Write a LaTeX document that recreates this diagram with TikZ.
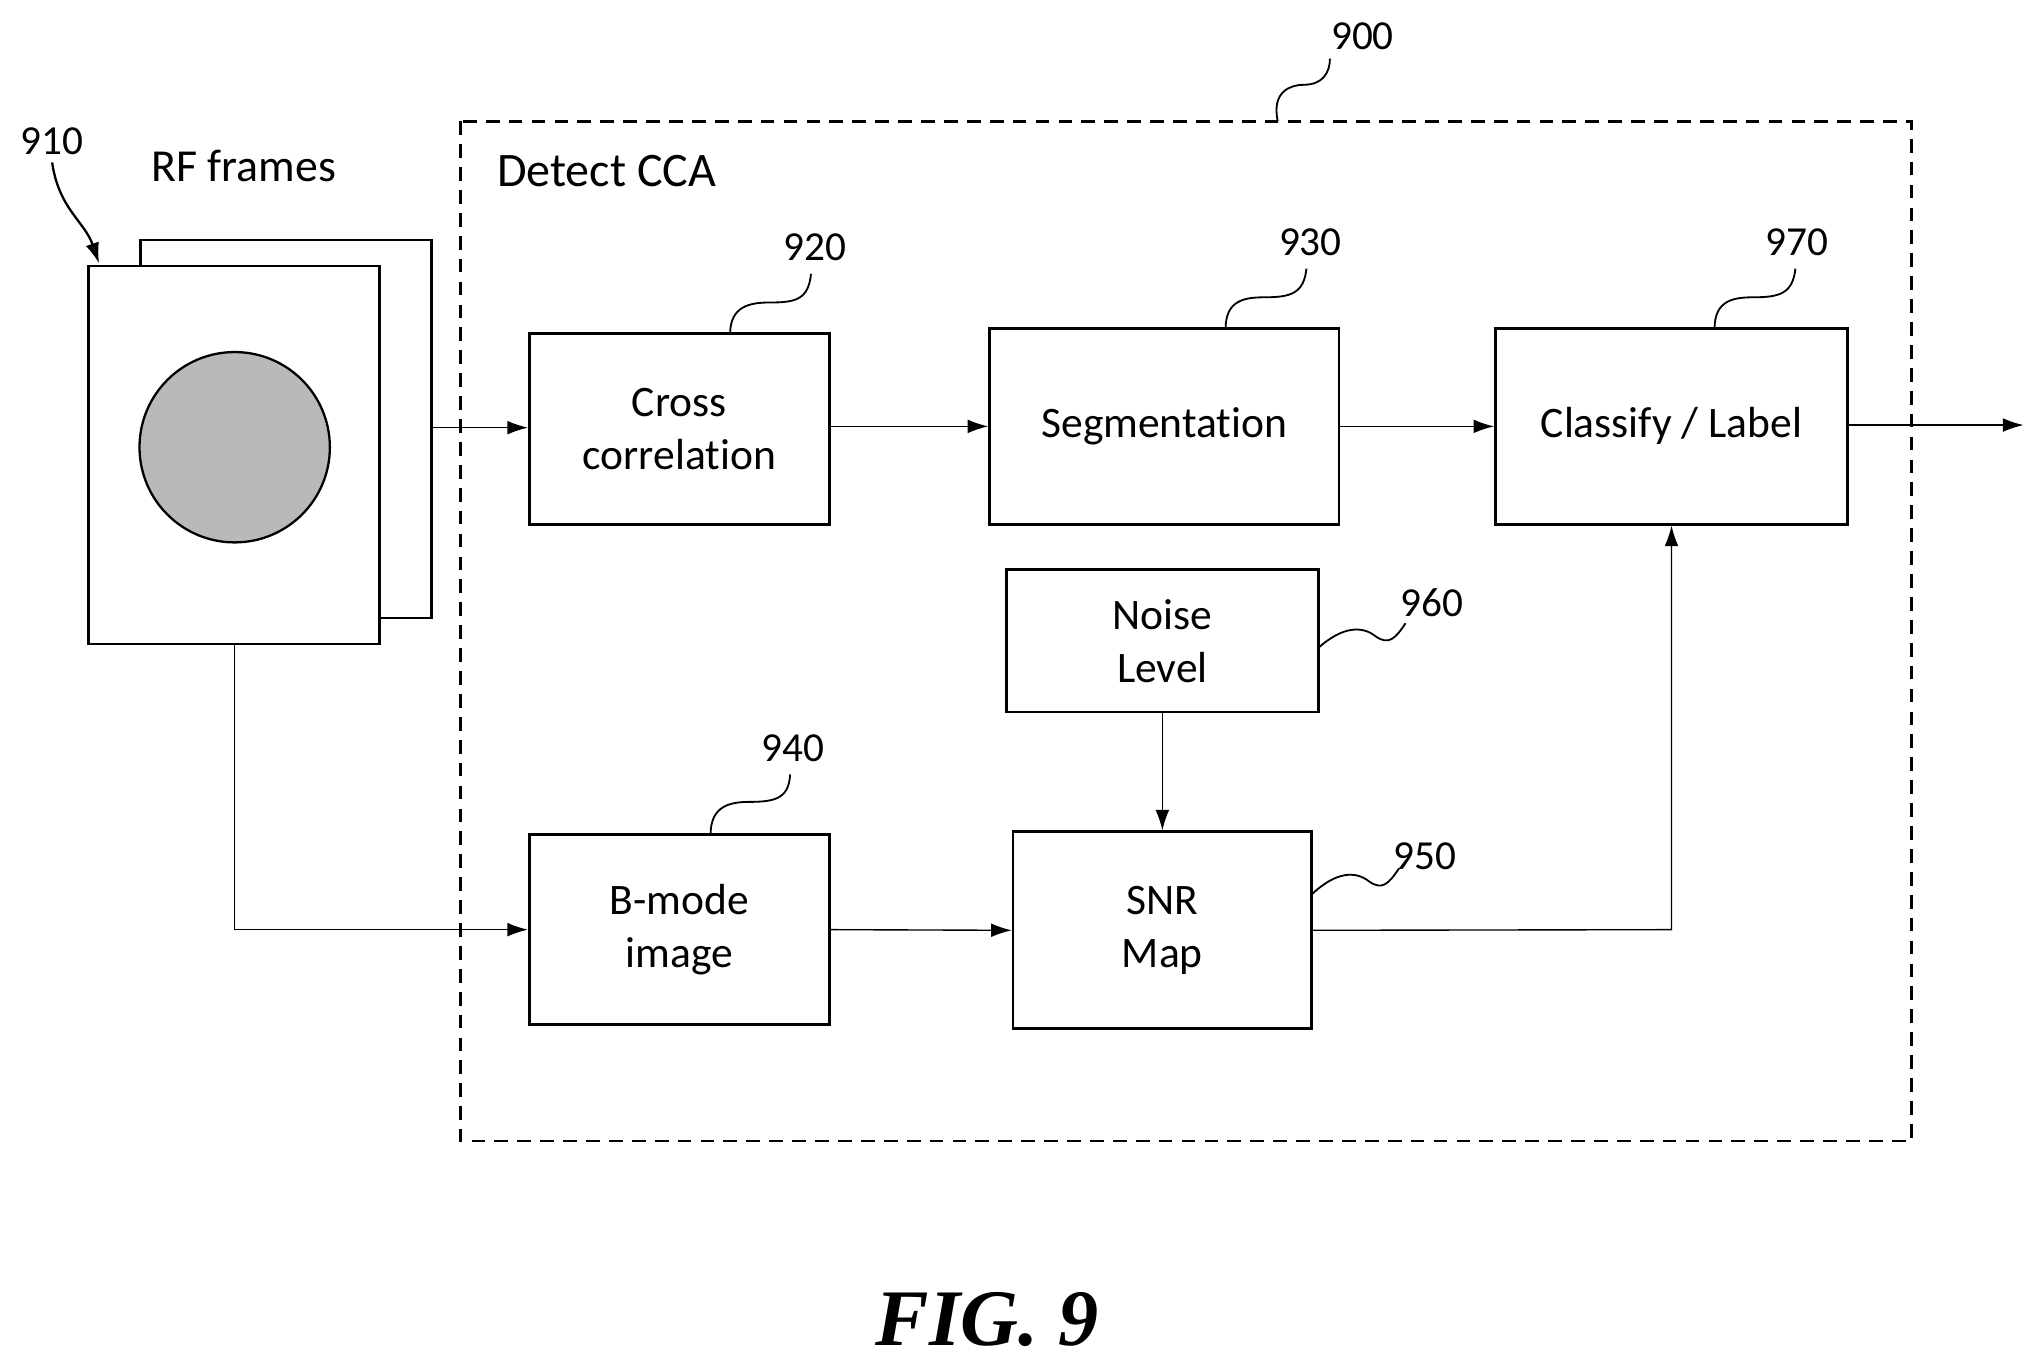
\documentclass[tikz,border=0pt]{standalone}
\usepackage{fontspec}
\setmainfont[RawFeature={-liga;-dlig;-clig}]{Carlito}
\newfontfamily\figfont{Liberation Serif}
\usetikzlibrary{arrows.meta}
\begin{document}
\begin{tikzpicture}[x=0.02cm,y=-0.02cm,
  box/.style={draw,line width=1.2pt,align=center,font=\fontsize{19}{23}\selectfont,inner sep=0pt},
  num/.style={font=\fontsize{18}{20}\selectfont},
  arr/.style={-{Latex[length=9pt,width=6pt]},line width=0.6pt},
  sq/.style={line width=0.8pt}]
\useasboundingbox (0,0) rectangle (1560,1046);
\draw[dashed,line width=1.2pt,dash pattern=on 6pt off 4pt] (353,93) rectangle (1466,875);
\node[anchor=west,font=\fontsize{21}{24}\selectfont] (dc) at (375,131) {Detect CCA};
% frames
\draw[line width=1.2pt] (108,204) -- (108,184) -- (331,184) -- (331,474) -- (291,474);
\node[draw,line width=1.2pt,fill=white,minimum width=223*0.02cm,minimum height=290*0.02cm,inner sep=0] (rf) at (179.5,349) {};
\node[circle,draw,line width=1pt,fill=gray!55,minimum size=146*0.02cm,inner sep=0] (c) at (180,343) {};
\coordinate (rfr) at (331,328);
\node[num,font=\fontsize{20}{22}\selectfont] (rft) at (187,127) {RF frames};
% boxes
\node[box,minimum width=230*0.02cm,minimum height=146*0.02cm] (cc) at (521,329) {Cross\\correlation};
\node[box,minimum width=268*0.02cm,minimum height=150*0.02cm] (sg) at (893,327) {Segmentation};
\node[box,minimum width=270*0.02cm,minimum height=150*0.02cm] (cl) at (1282,327) {Classify / Label};
\node[box,minimum width=239*0.02cm,minimum height=109*0.02cm] (nl) at (891.5,491.5) {Noise\\Level};
\node[box,minimum width=230*0.02cm,minimum height=146*0.02cm] (bm) at (521,713) {B-mode\\image};
\node[box,minimum width=229*0.02cm,minimum height=151*0.02cm] (sn) at (891.5,713.5) {SNR\\Map};
\coordinate (out) at (1552,326);
\coordinate (k1) at (180,713);
\coordinate (k2) at (1282,713);
% arrows
\draw[arr] (rfr) -- (cc.west|-rfr);
\draw[arr] (cc.east|-sg) -- (sg.west);
\draw[arr] (sg.east|-cl) -- (cl.west);
\draw[arr] (cl.east|-out) -- (out);
\draw[arr] (nl.south) -- (sn.north);
\draw[arr] (bm.east) -- (sn.west);
\draw[arr] (sn.east) -- (k2) -- (cl.south);
\draw[arr] (rf.south-|k1) -- (k1) -- (bm.west);
% labels
\node[num] (n900) at (1045,28) {900};
\draw[sq] (980,93) .. controls (975,70) and (990,65) .. (1000,65) .. controls (1015,65) and (1020,55) .. (1020,45);
\node[num] (n910) at (40,108) {910};
\draw[arr,line width=1pt] (n910.south) .. controls (45,160) and (65,170) .. (76,202);
\node[num] (n920) at (625,190) {920};
\draw[sq] (560,256) .. controls (560,235) and (575,232) .. (590,232) .. controls (610,232) and (620,230) .. (622,210);
\node[num] (n930) at (1005,186) {930};
\draw[sq] (940,252) .. controls (940,230) and (955,228) .. (970,228) .. controls (990,228) and (1000,225) .. (1002,206);
\node[num] (n970) at (1378,186) {970};
\draw[sq] (1315,252) .. controls (1315,230) and (1330,228) .. (1345,228) .. controls (1365,228) and (1375,225) .. (1377,206);
\node[num] (n960) at (1098,462) {960};
\draw[sq] (1011,497) .. controls (1030,480) and (1045,480) .. (1055,488) .. controls (1065,495) and (1070,490) .. (1078,478);
\node[num] (n940) at (608,574) {940};
\draw[sq] (545,640) .. controls (545,618) and (560,615) .. (575,615) .. controls (595,615) and (605,612) .. (606,594);
\node[num] (n950) at (1093,657) {950};
\draw[sq] (1006,686) .. controls (1025,668) and (1040,668) .. (1050,676) .. controls (1060,683) and (1065,678) .. (1073,666);
\node[font=\figfont\bfseries\itshape\fontsize{35}{38}\selectfont] (fig) at (757,1012) {FIG. 9};
\end{tikzpicture}
\end{document}
